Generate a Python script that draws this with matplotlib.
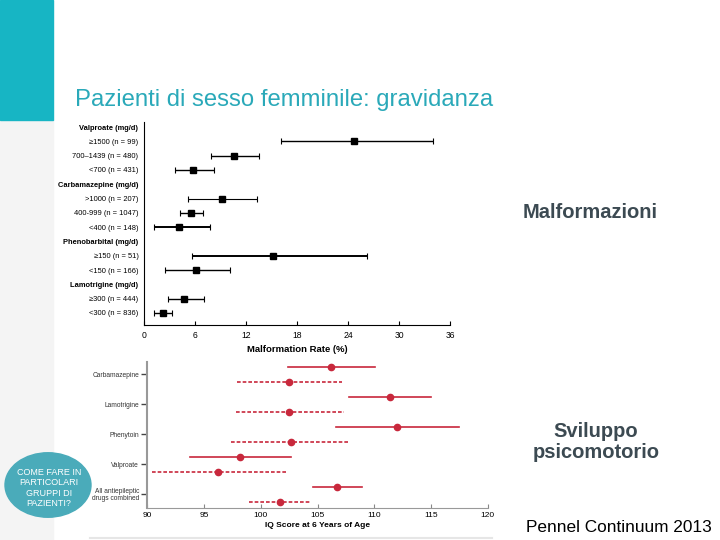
import numpy as np
import matplotlib.pyplot as plt
from matplotlib.patches import Rectangle, Circle

plt.rcParams['font.family'] = ['Liberation Sans', 'DejaVu Sans']

# top panel: malformation rate by dose
mal_labels = ['Valproate (mg/d)', '≥1500 (n = 99)', '700–1439 (n = 480)', '<700 (n = 431)',
              'Carbamazepine (mg/d)', '>1000 (n = 207)', '400-999 (n = 1047)', '<400 (n = 148)',
              'Phenobarbital (mg/d)', '≥150 (n = 51)', '<150 (n = 166)',
              'Lamotrigine (mg/d)', '≥300 (n = 444)', '<300 (n = 836)']
mal_header = [True, False, False, False, True, False, False, False, True, False, False, True, False, False]
mal_rate = [None, 24.7, 10.6, 5.8, None, 9.2, 5.5, 4.1, None, 15.2, 6.1, None, 4.7, 2.2]
mal_low = [None, 16.1, 7.9, 3.6, None, 5.2, 4.2, 1.2, None, 5.7, 2.5, None, 2.8, 1.2]
mal_high = [None, 34.0, 13.5, 8.2, None, 13.3, 6.9, 7.8, None, 26.2, 10.1, None, 7.0, 3.3]
mal_lw = [0, 1.0, 1.0, 1.0, 0, 0.8, 1.0, 1.4, 0, 1.4, 1.0, 0, 1.0, 1.0]
mal_ticks = [0, 6, 12, 18, 24, 30, 36]

# bottom panel: IQ at 6 years (solid / dashed rows)
iq_drugs = ['Carbamazepine', 'Lamotrigine', 'Phenytoin', 'Valproate', 'All antiepileptic\ndrugs combined']
iq_solid = [106.2, 111.4, 112.0, 98.2, 106.7]
iq_solid_low = [102.4, 107.8, 106.6, 93.8, 104.6]
iq_solid_high = [110.1, 115.0, 117.5, 102.7, 108.9]
iq_dash = [102.5, 102.5, 102.7, 96.2, 101.7]
iq_dash_low = [97.9, 97.8, 97.4, 90.4, 99.0]
iq_dash_high = [107.2, 107.3, 107.9, 102.2, 104.3]
iq_ticks = [90, 95, 100, 105, 110, 115, 120]

fig = plt.figure(figsize=(7.2, 5.4), dpi=100)
W, H = 720, 540

def fx(px):
    return px / W

def fy(py):
    return 1 - py / H

# slide decoration
fig.patches.append(Rectangle((0, fy(540)), fx(53), fy(120) - fy(540), transform=fig.transFigure,
                             color='#f4f4f4', zorder=0))
fig.patches.append(Rectangle((0, fy(120)), fx(53), fy(0) - fy(120), transform=fig.transFigure,
                             color='#17b5c4', zorder=0))
fig.text(fx(75), fy(100), 'Pazienti di sesso femminile: gravidanza', color='#2aa9b9',
         fontsize=17.2, va='center', ha='left')

# top axes
ax1 = fig.add_axes([fx(144), fy(325), fx(450 - 144), fy(122) - fy(325)])
rows = np.arange(len(mal_labels))
for i in rows:
    if mal_rate[i] is None:
        continue
    m = mal_rate[i]
    ax1.errorbar(m, i, xerr=[[m - mal_low[i]], [mal_high[i] - m]], fmt='s', color='black',
                 ms=4.5, elinewidth=mal_lw[i], capsize=2.5, capthick=0.8)
ax1.set_ylim(13.84, -0.35)
ax1.set_xlim(0, 36)
ax1.set_yticks(rows)
ax1.set_yticklabels(mal_labels, fontsize=5.4)
for lab, hd in zip(ax1.get_yticklabels(), mal_header):
    if hd:
        lab.set_fontweight('bold')
ax1.tick_params(axis='y', length=0, pad=4)
ax1.set_xticks(mal_ticks)
ax1.tick_params(axis='x', direction='in', length=3, labelsize=6.2, pad=4)
ax1.set_xlabel('Malformation Rate (%)', fontsize=6.8, fontweight='bold', labelpad=4)
for s in ['top', 'right']:
    ax1.spines[s].set_visible(False)
ax1.patch.set_alpha(0)

# bottom axes
red = '#c8283c'
ax2 = fig.add_axes([fx(147.3), fy(508), fx(487.7 - 147.3), fy(362) - fy(508)])
for i in range(len(iq_drugs)):
    ys = 2 * i
    yd = 2 * i + 1
    ax2.plot([iq_solid_low[i], iq_solid_high[i]], [ys, ys], color=red, lw=1.2)
    ax2.plot(iq_solid[i], ys, 'o', color=red, ms=4.5)
    ax2.plot([iq_dash_low[i], iq_dash_high[i]], [yd, yd], color=red, lw=1.2, ls=(0, (2.2, 1.2)))
    ax2.plot(iq_dash[i], yd, 'o', color=red, ms=4.5)
ax2.set_ylim(9.43, -0.3)
ax2.set_xlim(90, 120)
ax2.set_yticks(np.arange(len(iq_drugs)) * 2 + 0.5)
ax2.set_yticklabels(iq_drugs, fontsize=4.8, color='#333333', linespacing=1.0)
ax2.tick_params(axis='y', length=4, width=1, color='#444444', pad=2)
ax2.set_xticks(iq_ticks)
ax2.tick_params(axis='x', direction='in', length=3, color='#888888', labelsize=6, pad=3)
ax2.set_xlabel('IQ Score at 6 Years of Age', fontsize=6, fontweight='bold', labelpad=2)
for s in ['top', 'right']:
    ax2.spines[s].set_visible(False)
for s in ['left', 'bottom']:
    ax2.spines[s].set_color('#999999')
ax2.spines['left'].set_linewidth(1.5)
ax2.patch.set_alpha(0)

fig.add_artist(plt.Line2D([fx(90), fx(492)], [fy(538), fy(538)], transform=fig.transFigure,
                          color='#e6e6e6', lw=1.5))

# side texts
fig.text(fx(590), fy(213), 'Malformazioni', color='#3c4a52', fontsize=14.5, fontweight='bold',
         ha='center', va='center')
fig.text(fx(596), fy(442), 'Sviluppo\npsicomotorio', color='#3c4a52', fontsize=14.5, fontweight='bold',
         ha='center', va='center', linespacing=1.1)
fig.text(fx(712), fy(528), 'Pennel Continuum 2013', color='black', fontsize=12.4, ha='right', va='center')

# circle badge
fig.patches.append(Circle((fx(48), fy(485)), 43 / W, transform=fig.transFigure,
                          color='#4aabba', zorder=2))
fig.text(fx(49), fy(488), 'COME FARE IN\nPARTICOLARI\nGRUPPI DI\nPAZIENTI?', color='white',
         fontsize=6.5, ha='center', va='center', linespacing=1.2, zorder=3)

fig.savefig('out.png', dpi=100)
